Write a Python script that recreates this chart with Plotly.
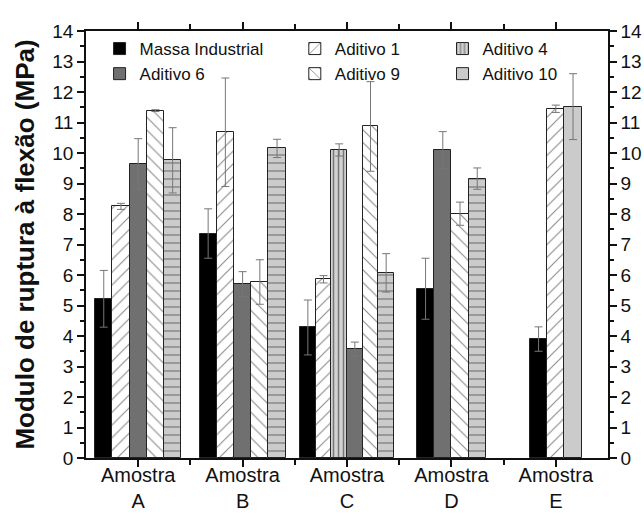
import plotly.graph_objects as go

groups = ["A", "B", "C", "D", "E"]
tick_top = ["Amostra", "Amostra", "Amostra", "Amostra", "Amostra"]

massa = [5.22, 7.36, 4.28, 5.55, 3.90]
massa_err = [0.93, 0.81, 0.90, 1.00, 0.40]
ad1 = [8.25, 10.68, 5.86, None, 11.45]
ad1_err = [0.10, 1.78, 0.12, None, 0.12]
ad4 = [None, None, 10.10, None, None]
ad4_err = [None, None, 0.20, None, None]
ad6 = [9.65, 5.70, 3.57, 10.09, None]
ad6_err = [0.82, 0.41, 0.23, 0.61, None]
ad9 = [11.39, 5.77, 10.87, 8.01, None]
ad9_err = [0.03, 0.73, 1.47, 0.38, None]
ad10 = [9.76, 10.15, 6.07, 9.16, 11.52]
ad10_err = [1.07, 0.30, 0.63, 0.35, 1.08]
ad10_pattern = ["-", "-", "-", "-", ""]

series = [
    ("Massa Industrial", massa, massa_err, dict(color="#000000"), "legend"),
    ("Aditivo 1", ad1, ad1_err,
     dict(color="white", pattern=dict(shape="/", fgcolor="#8a8a8a", bgcolor="white", size=9, solidity=0.12, fillmode="replace")),
     "legend2"),
    ("Aditivo 4", ad4, ad4_err,
     dict(color="#d2d2d2", pattern=dict(shape="|", fgcolor="#777777", bgcolor="#d2d2d2", size=5, solidity=0.3, fillmode="replace")),
     "legend3"),
    ("Aditivo 6", ad6, ad6_err, dict(color="#707070"), "legend"),
    ("Aditivo 9", ad9, ad9_err,
     dict(color="white", pattern=dict(shape="\\", fgcolor="#8a8a8a", bgcolor="white", size=9, solidity=0.12, fillmode="replace")),
     "legend2"),
    ("Aditivo 10", ad10, ad10_err,
     dict(color="#cbcbcb", pattern=dict(shape=ad10_pattern, fgcolor="#777777", bgcolor="#cbcbcb", size=8, solidity=0.15, fillmode="replace")),
     "legend3"),
]

# bars present in each group, centered on the category position
present = [[i for i, s in enumerate(series) if s[1][g] is not None] for g in range(len(groups))]

fig = go.Figure()
for si, (name, vals, errs, marker, leg) in enumerate(series):
    xs, ys, es, ws, pats = [], [], [], [], []
    for g in reversed(range(len(groups))):
        if vals[g] is None:
            continue
        n = len(present[g])
        k = present[g].index(si)
        w = min(0.165, 0.9 / n)
        xs.append(g + 1 + (k - (n - 1) / 2) * w)
        ys.append(vals[g])
        es.append(errs[g])
        ws.append(w)
        if isinstance(marker.get("pattern", {}).get("shape"), list):
            pats.append(marker["pattern"]["shape"][g])
    m = dict(marker)
    if pats:
        m["pattern"] = dict(marker["pattern"], shape=pats)
    m["line"] = dict(color="#222222", width=1)
    fig.add_trace(go.Bar(
        x=xs, y=ys, width=ws, name=name, marker=m, legend=leg,
        error_y=dict(type="data", array=es, visible=True, color="#777777", thickness=1, width=4),
    ))

font = "Arial, Liberation Sans, sans-serif"
legend_common = dict(
    orientation="v", yanchor="top", xanchor="left", y=1.0,
    bgcolor="rgba(0,0,0,0)", font=dict(family=font, size=17, color="#111"),
    itemwidth=30, tracegroupgap=0, traceorder="normal",
)
tick_common = dict(ticks="outside", ticklen=7, tickwidth=1.5, tickcolor="#111")

fig.update_layout(
    width=644, height=514,
    margin=dict(l=86, r=36, t=31, b=56),
    paper_bgcolor="white", plot_bgcolor="white",
    font=dict(family=font, color="#111"),
    barmode="overlay",
    bargap=0,
    showlegend=True,
    legend=dict(legend_common, x=0.026),
    legend2=dict(legend_common, x=0.40),
    legend3=dict(legend_common, x=0.683),
    xaxis=dict(
        range=[0.5, 5.5], tickmode="array", tickvals=[1, 2, 3, 4, 5], ticktext=tick_top,
        minor=dict(tickmode="array", tickvals=[1.5, 2.5, 3.5, 4.5], ticks="outside", ticklen=5, tickcolor="#111"),
        showline=True, linecolor="#111", linewidth=1.5, mirror="ticks", automargin=False,
        showgrid=False, zeroline=False, tickfont=dict(size=20, family=font, color="#111"),
        ticklabelstandoff=-9,
        **tick_common,
    ),
    xaxis2=dict(
        range=[0.5, 5.5], overlaying="x", side="bottom", anchor="y", matches="x",
        tickmode="array", tickvals=[1, 2, 3, 4, 5], ticktext=groups,
        ticks="", showline=False, showgrid=False, zeroline=False, automargin=False,
        ticklabelstandoff=29, tickfont=dict(size=20, family=font, color="#111"),
    ),
    yaxis=dict(
        range=[0, 14], dtick=1,
        minor=dict(dtick=0.5, ticks="outside", ticklen=4, tickcolor="#111", showgrid=False),
        showline=True, linecolor="#111", linewidth=1.5, mirror=True, automargin=False,
        showgrid=False, zeroline=False, tickfont=dict(size=19, family=font, color="#111"),
        title=dict(text="<b>Modulo de ruptura à flexão (MPa)</b>", font=dict(size=26, family=font, color="#111"), standoff=10),
        **tick_common,
    ),
    yaxis2=dict(
        range=[0, 14], dtick=1, overlaying="y", side="right", anchor="x", automargin=False,
        minor=dict(dtick=0.5, ticks="outside", ticklen=4, tickcolor="#111", showgrid=False),
        showline=True, linecolor="#111", linewidth=1.5,
        showgrid=False, zeroline=False, tickfont=dict(size=19, family=font, color="#111"),
        **tick_common,
    ),
)
fig.add_trace(go.Scatter(x=[None], y=[None], xaxis="x2", yaxis="y2", showlegend=False, hoverinfo="skip"))

fig.write_html("out.html")
